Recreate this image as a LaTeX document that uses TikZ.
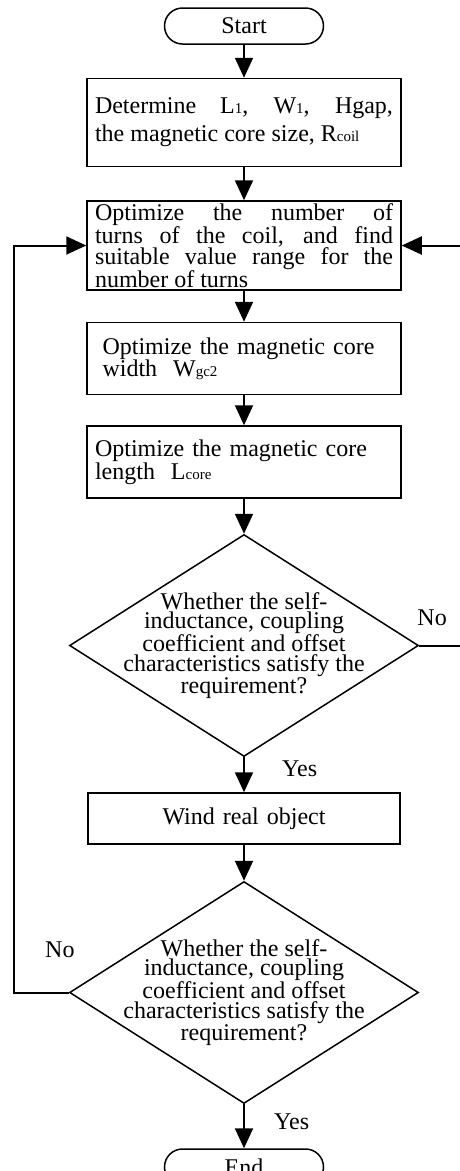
\documentclass[tikz,border=0pt]{standalone}
\usepackage{fontspec}
\setmainfont{Liberation Serif}
\usetikzlibrary{positioning, arrows.meta, shapes.geometric}

\newcommand{\lowtxt}[1]{{\fontsize{15}{15}\selectfont #1}}

\begin{document}
\begin{tikzpicture}[
  x=1pt, y=-1pt,
  font=\fontsize{24}{21}\selectfont,
  node distance=33pt,
  >={Triangle[length=20pt,width=18pt]},
  block/.style={
    draw=black, line width=1.5pt, rectangle,
    text width=298pt, inner xsep=8pt, inner ysep=2pt
  },
  term/.style={draw=black, line width=1.5pt, rounded corners=18pt,
    minimum width=159pt, minimum height=36pt, inner sep=0pt},
  decision/.style={draw=black, line width=1.5pt, diamond,
    minimum width=349pt, minimum height=222pt, inner sep=0pt},
  qtext/.style={align=center, inner sep=0pt,
    font=\fontsize{24}{19.5}\selectfont},
  lbl/.style={inner sep=0pt},
  flow/.style={->, line width=2pt},
]
\useasboundingbox (0,0) rectangle (460,1171);

\node[term] (start) at (244,26) {Start};
\node[block, below=of start, minimum height=88pt, align=justify,
      font=\fontsize{24}{28}\selectfont] (det)
  {Determine~ L\lowtxt{1},~ W\lowtxt{1},~ Hgap,\linebreak
   the magnetic core size, R\lowtxt{coil}};
\node[block, below=of det, minimum height=89pt, align=justify] (turns)
  {Optimize the number of\linebreak turns of the coil, and find\linebreak
   suitable value range for the\linebreak number of turns};
\node[block, below=31pt of turns, minimum height=72pt, align=left,
      text width=283pt, inner xsep=15.5pt,
      font=\fontsize{24}{22}\selectfont] (width)
  {Optimize the magnetic core\\ width~ W\lowtxt{gc2}};
\node[block, below=30pt of width, minimum height=72pt, align=left,
      font=\fontsize{24}{20}\selectfont] (length)
  {Optimize the magnetic core\\ length~ L\lowtxt{core}};

\node[decision, below=35pt of length] (chk1) {};
\node[qtext] (chk1txt) at (chk1)
  {Whether the self-\\inductance, coupling\\coefficient and offset\\
   characteristics satisfy the\\requirement?};

\node[block, below=35pt of chk1, minimum height=51pt, align=center,
      text width=296pt] (wind) {Wind real object};

\node[decision, below=36pt of wind] (chk2) {};
\node[qtext] (chk2txt) at (chk2)
  {Whether the self-\\inductance, coupling\\coefficient and offset\\
   characteristics satisfy the\\requirement?};

\node[term, below=44pt of chk2] (stop) {End};

% loop turning points
\coordinate (rloop) at (461,0);
\coordinate (lloop) at (14,0);

\draw[flow] (start) -- (det);
\draw[flow] (det) -- (turns);
\draw[flow] (turns) -- (width);
\draw[flow] (width) -- (length);
\draw[flow] (length) -- (chk1);
\draw[flow] (chk1) -- (wind);
\draw[flow] (wind) -- (chk2);
\draw[flow] (chk2) -- (stop);

\draw[flow] (chk1.east) -- (chk1.east -| rloop) |- (turns.east);
\draw[flow] (chk2.west) -- (chk2.west -| lloop) |- (turns.west);

\node[lbl, above right=20pt and -2pt of chk1.east] (no1) {No};
\node[lbl, below right=3pt and 38pt of chk1.south] (yes1) {Yes};
\node[lbl, above left=35pt and -6pt of chk2.west] (no2) {No};
\node[lbl, below right=9pt and 30pt of chk2.south] (yes2) {Yes};

\end{tikzpicture}
\end{document}
